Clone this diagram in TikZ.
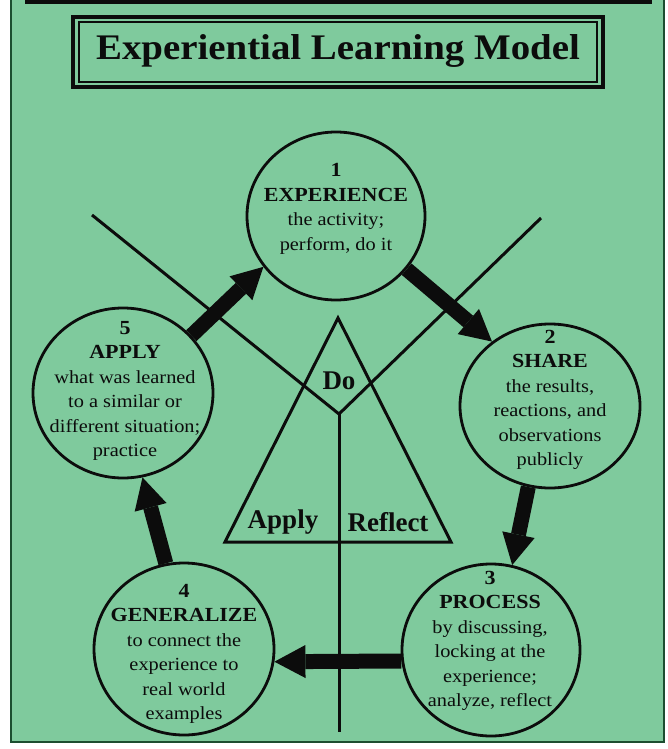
\documentclass[tikz,border=0pt]{standalone}
\usepackage{fontspec}
\setmainfont{Liberation Serif}
\newfontfamily\circfont[FakeStretch=1.1]{Liberation Serif}
\newfontfamily\titlefont[FakeStretch=1.08]{Liberation Serif}
\usetikzlibrary{shapes.geometric,arrows.meta}
\definecolor{bggreen}{RGB}{127,202,157}
\definecolor{framegreen}{RGB}{28,78,48}
\definecolor{ink}{RGB}{12,12,12}
\tikzset{
  stage/.style={ellipse, draw=ink, line width=2.8pt, fill=bggreen, inner sep=0pt},
  stagetext/.style={align=center, text=ink, font=\circfont\fontsize{18.5}{24.5}\selectfont, inner sep=0pt},
  bigarrow/.style={draw=ink, line width=15pt, -{Triangle[length=31pt,width=33pt,line width=0pt]}},
  thinline/.style={draw=ink, line width=3pt},
  tritext/.style={text=ink, font=\fontsize{27}{30}\selectfont\bfseries, inner sep=0pt}
}
\newcommand{\hd}[1]{{\fontsize{20}{24.5}\selectfont\bfseries #1}}
\begin{document}
\begin{tikzpicture}[x=1pt,y=-1pt]
\useasboundingbox (0,0) rectangle (667,749);
\fill[white] (0,0) rectangle (667,749);
% frame
\filldraw[fill=bggreen, draw=framegreen, line width=1.6pt] (11,-2) rectangle (664,742);
\fill[ink] (25,0) rectangle (652,4);
% title
\draw[ink, line width=3.4pt] (73,17) rectangle (603,87);
\draw[ink, line width=1.4pt] (79,22) rectangle (597,82);
\node[text=ink, font=\titlefont\fontsize{36}{40}\selectfont\bfseries, inner sep=0pt] (title) at (338,51) {Experiential Learning Model};
% lines
\coordinate (L) at (92,215);
\coordinate (R) at (541,218);
\coordinate (V) at (339,414);
\coordinate (B) at (339,732);
\coordinate (TA) at (338,318);
\coordinate (TL) at (225,542);
\coordinate (TR) at (451,542);
\draw[thinline, line join=miter] (L) -- (V) -- (R);
\draw[thinline] (V) -- (B);
\draw[thinline, line join=miter] (TA) -- (TL) -- (TR) -- cycle;
\node[tritext] (do) at (339,381) {Do};
\node[tritext] (apply) at (283,522) {Apply};
\node[tritext] (reflect) at (388,522) {Reflect};
% stages
\node[stage, minimum width=178pt, minimum height=168pt] (c1) at (336,216) {};
\node[stage, minimum width=180pt, minimum height=164pt] (c2) at (550,406) {};
\node[stage, minimum width=178pt, minimum height=172pt] (c3) at (491,650) {};
\node[stage, minimum width=180pt, minimum height=172pt] (c4) at (184,649) {};
\node[stage, minimum width=180pt, minimum height=170pt] (c5) at (123,393) {};
\node[stagetext] (t1) at (336,209) {\hd{1}\\\hd{EXPERIENCE}\\the activity;\\perform, do it};
\node[stagetext] (t2) at (550,400) {\hd{2}\\\hd{SHARE}\\the results,\\reactions, and\\observations\\publicly};
\node[stagetext] (t3) at (490,641) {\hd{3}\\\hd{PROCESS}\\by discussing,\\locking at the\\experience;\\analyze, reflect};
\node[stagetext] (t4) at (184,654) {\hd{4}\\\hd{GENERALIZE}\\to connect the\\experience to\\real world\\examples};
\node[stagetext] (t5) at (125,391) {\hd{5}\\\hd{APPLY}\\what was learned\\to a similar or\\different situation;\\practice};
% arrows
\draw[bigarrow] (c5.40) -- (c1.215);
\draw[bigarrow] (c1.-37) -- (c2.132);
\draw[bigarrow] (c2.255) -- (c3.76);
\draw[bigarrow] (c3.187) -- (c4.-8);
\draw[bigarrow] (c4.102) -- (c5.-77);
\end{tikzpicture}
\end{document}
